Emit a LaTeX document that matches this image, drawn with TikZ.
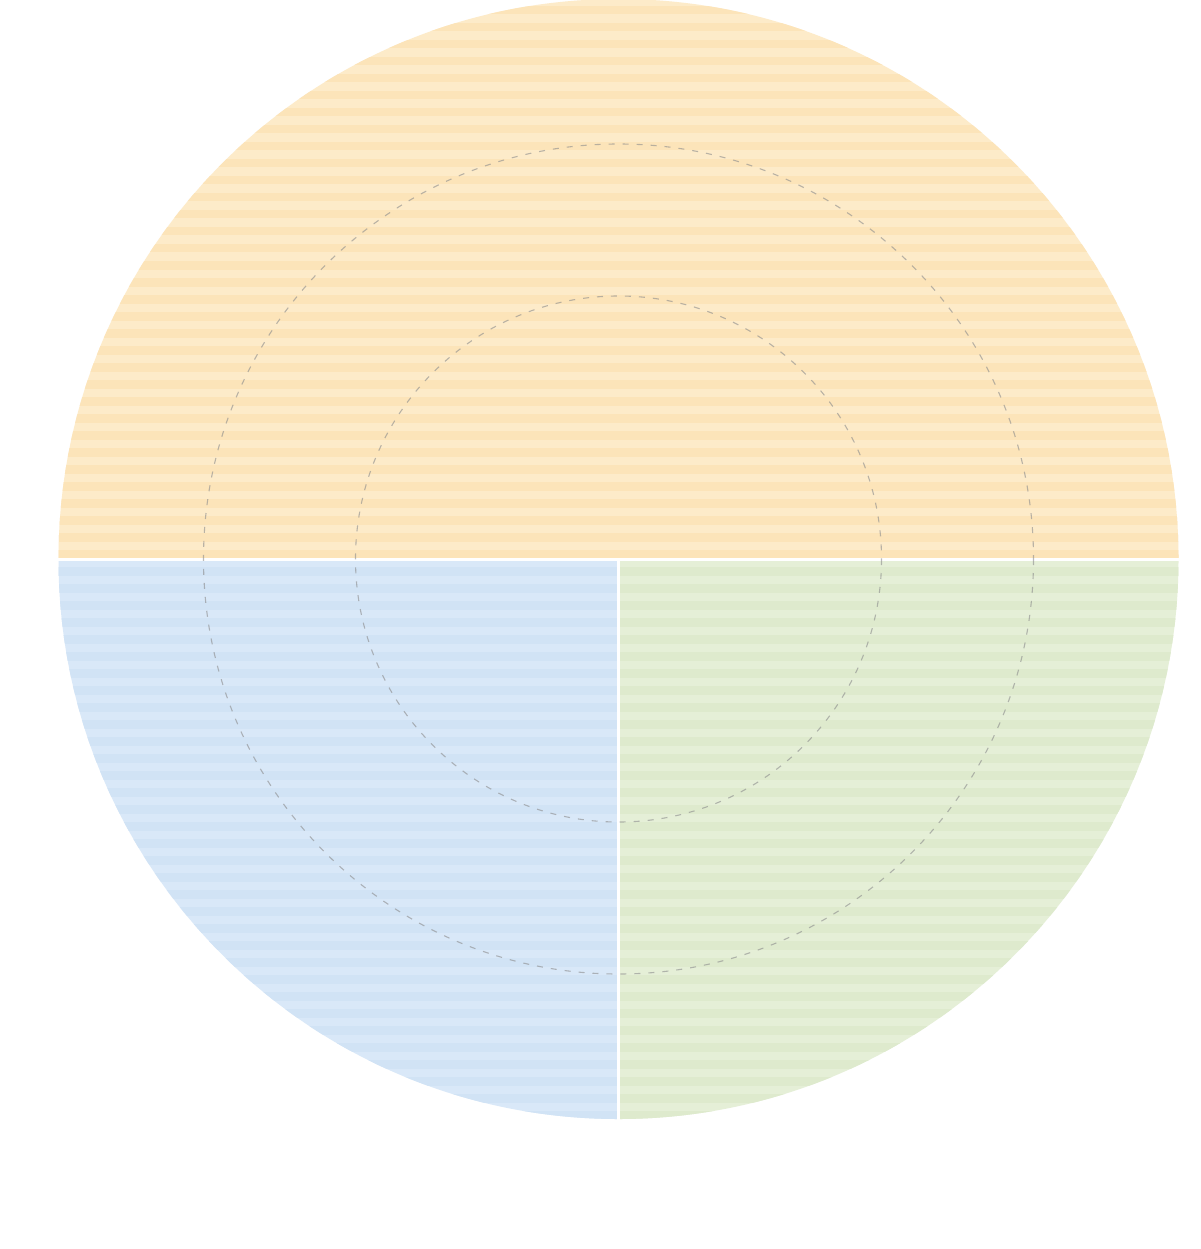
\documentclass[tikz,border=0pt]{standalone}
\usepackage{tikz}
\definecolor{orL}{HTML}{FDEBC9}
\definecolor{orD}{HTML}{FCE4B9}
\definecolor{blL}{HTML}{D9E8F8}
\definecolor{blD}{HTML}{D1E3F5}
\definecolor{grL}{HTML}{E5EFD7}
\definecolor{grD}{HTML}{DEEACD}
\definecolor{dashc}{HTML}{8C8C8C}
\tikzset{
  ring/.style={draw=dashc, draw opacity=0.6, line width=1.1pt, dash pattern=on 6pt off 8pt},
  sep/.style={draw=white, line width=3pt},
}
\begin{document}
\begin{tikzpicture}[x=1pt,y=-1pt]
\useasboundingbox[fill=white] (0,0) rectangle (1200,1249);
\coordinate (c) at (618.5,559);
% top half
\begin{scope}
  \clip (c) circle (560);
  \clip (0,0) rectangle (1200,559);
  \fill[orL] (0,0) rectangle (1200,559);
  \foreach \i in {0,...,33} {
    \fill[orD] (0,{550-\i*17}) rectangle (1200,{558.5-\i*17});
  }
\end{scope}
% bottom left
\begin{scope}
  \clip (c) circle (560);
  \clip (0,559) rectangle (618.5,1249);
  \fill[blL] (0,559) rectangle (618.5,1249);
  \foreach \i in {0,...,33} {
    \fill[blD] (0,{567+\i*17}) rectangle (618.5,{575.5+\i*17});
  }
\end{scope}
% bottom right
\begin{scope}
  \clip (c) circle (560);
  \clip (618.5,559) rectangle (1200,1249);
  \fill[grL] (618.5,559) rectangle (1200,1249);
  \foreach \i in {0,...,33} {
    \fill[grD] (618.5,{567+\i*17}) rectangle (1200,{575.5+\i*17});
  }
\end{scope}
% separators
\coordinate (L) at (55,559);
\coordinate (R) at (1182,559);
\coordinate (B) at (618.5,1122);
\draw[sep] (L) -- (R);
\draw[sep] (c) -- (B);
% dashed rings
\draw[ring] (c) circle (415);
\draw[ring] (c) circle (263);
\end{tikzpicture}
\end{document}
